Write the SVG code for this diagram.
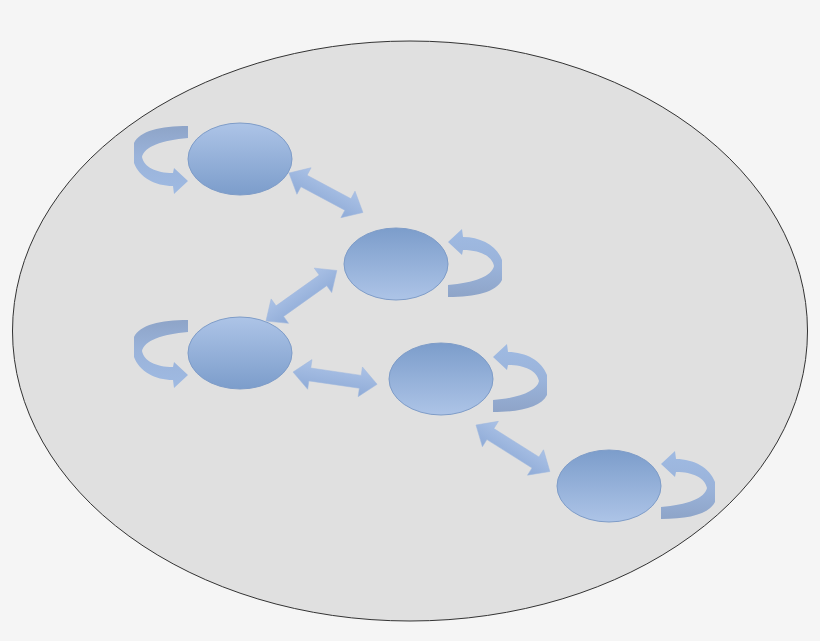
<svg xmlns="http://www.w3.org/2000/svg" width="820" height="641" viewBox="0 0 820 641">
<defs>
<linearGradient id="gUp" x1="0" y1="0" x2="0" y2="1"><stop offset="0" stop-color="#adc4e7"/><stop offset="1" stop-color="#7c9dcb"/></linearGradient>
<linearGradient id="gDown" x1="0" y1="0" x2="0" y2="1"><stop offset="0" stop-color="#7c9dcb"/><stop offset="1" stop-color="#adc4e7"/></linearGradient>
<linearGradient id="gArrow" x1="0" y1="0" x2="0" y2="1"><stop offset="0" stop-color="#abc2e6"/><stop offset="1" stop-color="#8fabd7"/></linearGradient>
<linearGradient id="gLoop" x1="0" y1="0" x2="0" y2="1"><stop offset="0" stop-color="#9fbae2"/><stop offset="0.55" stop-color="#9ab3da"/><stop offset="1" stop-color="#8ea4c8"/></linearGradient>
<path id="loop" d="M52,-22 L66,-35 L67,-27 C85,-27 101,-18 106,-4 L106,16 C100,28 80,33 52,33 L52,21 C78,19 96,12 98,2 C96,-8 84,-14 67,-14 L66,-9 Z"/>
</defs>
<style>
.node{stroke:#7e9cc8;stroke-width:1}
.arrow{fill:url(#gArrow);stroke:#a0b8de;stroke-width:0.5}
.loop{fill:url(#gLoop)}
</style>
<rect width="820" height="641" fill="#f5f5f5"/>
<ellipse id="boundary" cx="410" cy="331" rx="397.5" ry="290" fill="#e0e0e0" stroke="#333" stroke-width="1"/>
<g id="connectors">
<polygon class="arrow" transform="translate(289,173) rotate(28.1)" points="0,0 17,-15 17,-6.5 66.8,-6.5 66.8,-15 83.8,0 66.8,15 66.8,6.5 17,6.5 17,15"/>
<polygon class="arrow" transform="translate(266,321) rotate(-35.5)" points="0,0 17,-15 17,-6.5 70,-6.5 70,-15 87,0 70,15 70,6.5 17,6.5 17,15"/>
<polygon class="arrow" transform="translate(293,372) rotate(8.3)" points="0,0 17,-15 17,-6.5 68,-6.5 68,-15 85,0 68,15 68,6.5 17,6.5 17,15"/>
<polygon class="arrow" transform="translate(476,425) rotate(32.2)" points="0,0 17,-15 17,-6.5 70.3,-6.5 70.3,-15 87.3,0 70.3,15 70.3,6.5 17,6.5 17,15"/>
<use href="#loop" class="loop" transform="translate(240,159) rotate(180)"/>
<use href="#loop" class="loop" transform="translate(240,353) rotate(180)"/>
<use href="#loop" class="loop" transform="translate(396,264)"/>
<use href="#loop" class="loop" transform="translate(441,379)"/>
<use href="#loop" class="loop" transform="translate(609,486)"/>
</g>
<g id="node1"><ellipse class="node" cx="240" cy="159" rx="52" ry="36" fill="url(#gUp)"/></g>
<g id="node2"><ellipse class="node" cx="396" cy="264" rx="52" ry="36" fill="url(#gDown)"/></g>
<g id="node3"><ellipse class="node" cx="240" cy="353" rx="52" ry="36" fill="url(#gUp)"/></g>
<g id="node4"><ellipse class="node" cx="441" cy="379" rx="52" ry="36" fill="url(#gDown)"/></g>
<g id="node5"><ellipse class="node" cx="609" cy="486" rx="52" ry="36" fill="url(#gDown)"/></g>
</svg>
